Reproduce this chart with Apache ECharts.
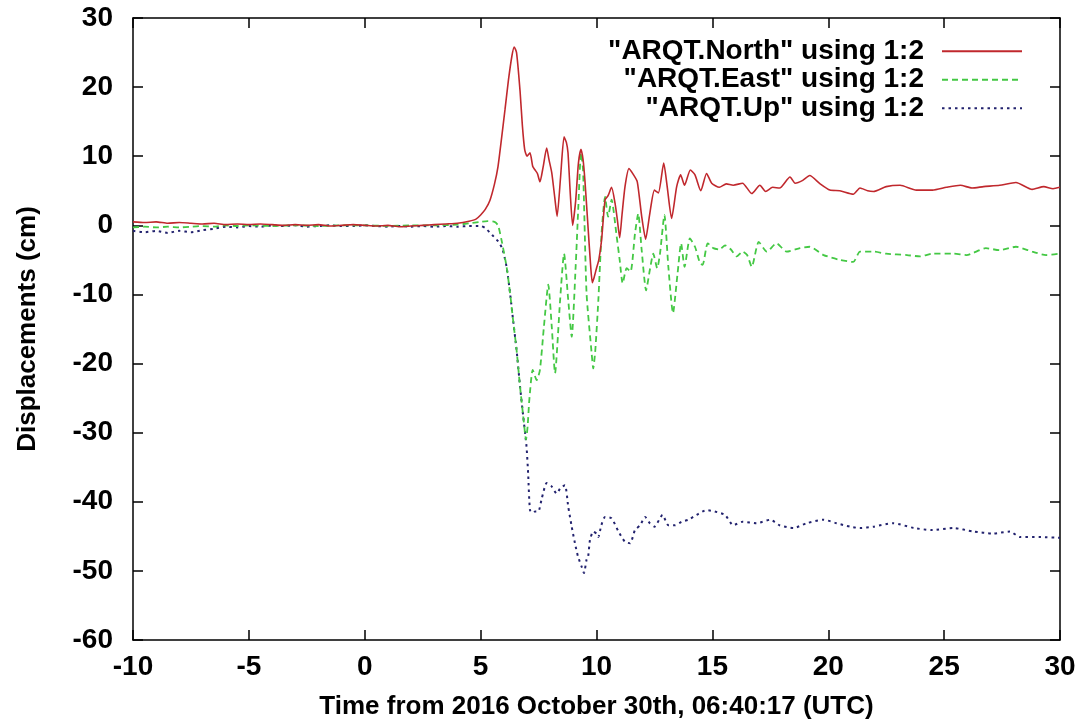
<!DOCTYPE html>
<html>
<head>
<meta charset="utf-8">
<script src="https://cdn.jsdelivr.net/npm/echarts@6/dist/echarts.min.js"></script>
<style>
html,body{margin:0;padding:0;background:#fff;}
#c{width:1084px;height:725px;}
</style>
</head>
<body>
<div id="c"></div>
<script>
// ---- data ----
const seriesNames = ['"ARQT.North" using 1:2', '"ARQT.East" using 1:2', '"ARQT.Up" using 1:2'];
const xTicks = [-10, -5, 0, 5, 10, 15, 20, 25, 30];
const yTicks = [-60, -50, -40, -30, -20, -10, 0, 10, 20, 30];

const northT = [-10,-9.5,-9,-8.5,-8,-7.5,-7,-6.5,-6,-5.5,-5,-4.5,-4,-3.5,-3,-2.5,-2,-1.5,-1,-0.5,0,0.5,1,1.5,2,2.5,3,3.5,4,4.5,4.8,5.0,5.2,5.4,5.6,5.75,5.9,6.05,6.2,6.35,6.45,6.55,6.7,6.8,6.9,7.0,7.13,7.25,7.35,7.45,7.56,7.7,7.85,7.95,8.07,8.2,8.3,8.45,8.6,8.7,8.77,8.87,8.97,9.1,9.22,9.33,9.42,9.5,9.62,9.75,9.82,9.9,10.0,10.1,10.22,10.37,10.5,10.65,10.8,10.9,11.0,11.1,11.23,11.4,11.6,11.76,11.95,12.12,12.3,12.5,12.67,12.9,13.05,13.24,13.46,13.63,13.8,14.05,14.25,14.5,14.75,14.97,15.3,15.6,15.9,16.3,16.7,17.05,17.3,17.6,17.9,18.35,18.57,18.9,19.2,19.65,20.07,20.5,21.08,21.37,21.7,21.95,22.5,23.1,23.8,24.5,25.1,25.7,26.2,26.7,27.4,28.1,28.8,29.3,29.7,30];
const northV = [0.5,0.4,0.5,0.3,0.4,0.3,0.2,0.3,0.1,0.2,0.1,0.2,0.1,0.0,0.1,0.0,0.1,-0.1,0.0,0.1,0.0,-0.1,0.0,-0.2,-0.1,0.0,0.1,0.2,0.3,0.6,0.9,1.5,2.3,3.6,6.0,8.5,12.5,16.7,21.0,24.5,25.8,25.0,19.5,14.5,11.0,10.0,10.5,8.5,8.0,7.5,6.3,8.5,11.2,9.5,7.6,4.0,1.3,7.0,12.8,12.0,10.5,4.5,0.0,3.5,9.0,11.0,9.5,6.5,0.5,-6.0,-8.3,-7.5,-6.2,-5.0,-2.1,3.7,4.3,5.5,3.2,0.8,-1.8,1.5,5.6,8.2,7.3,6.3,1.3,-2.0,1.7,5.1,4.7,9.0,5.6,1.0,5.6,7.3,5.8,8.0,7.3,5.0,7.5,6.1,5.5,6.0,5.8,6.1,4.6,5.8,4.9,5.5,5.4,7.0,6.1,6.5,7.2,6.0,5.1,5.0,4.5,5.4,5.0,4.9,5.6,5.8,5.1,5.1,5.5,5.8,5.4,5.6,5.8,6.2,5.2,5.6,5.3,5.5];

const eastT = [-10,-9.5,-9,-8.5,-8,-7.5,-7,-6.5,-6,-5.5,-5,-4,-3,-2,-1,0,1,2,3,4,4.5,5.0,5.3,5.6,5.75,5.9,6.12,6.27,6.4,6.55,6.7,6.84,6.96,7.03,7.1,7.25,7.42,7.56,7.73,7.92,8.07,8.21,8.43,8.6,8.78,8.93,9.1,9.22,9.33,9.42,9.57,9.79,9.86,9.95,10.08,10.22,10.37,10.5,10.65,10.87,11.0,11.13,11.3,11.47,11.66,11.8,11.95,12.14,12.3,12.45,12.62,12.74,12.93,13.1,13.3,13.5,13.65,13.8,14.03,14.25,14.47,14.58,14.8,15.04,15.3,15.55,15.8,16.05,16.3,16.5,16.7,17.0,17.35,17.77,18.2,18.78,19.2,19.8,20.5,21.08,21.37,21.95,22.5,23.4,23.96,24.5,25.4,25.97,26.8,27.4,28.1,28.8,29.4,30];
const eastV = [-0.3,-0.2,-0.3,-0.2,-0.3,-0.2,-0.1,-0.2,0.0,-0.1,0.0,-0.1,0.0,-0.1,0.0,0.0,-0.1,0.0,0.0,0.1,0.3,0.5,0.6,0.5,0.0,-2.1,-6.0,-9.8,-13.7,-18.0,-23.3,-27.7,-31.0,-29.0,-25.3,-20.9,-22.4,-20.9,-14.7,-8.6,-14.7,-21.4,-10.8,-4.1,-10.8,-16.1,-6.0,3.0,10.5,8.0,-9.8,-18.5,-20.7,-18.0,-10.8,-1.1,4.1,1.25,3.7,-1.6,-5.0,-8.4,-6.2,-6.7,-1.2,1.7,-3.6,-9.4,-6.5,-4.1,-6.2,-4.1,1.5,-6.0,-12.7,-6.9,-2.6,-6.0,-1.9,-3.1,-5.5,-5.7,-2.6,-3.3,-3.5,-2.9,-3.5,-4.5,-3.8,-4.3,-6.0,-2.4,-3.8,-2.6,-3.8,-3.3,-3.1,-4.3,-5.0,-5.3,-3.8,-3.8,-4.1,-4.3,-4.5,-4.1,-4.1,-4.3,-3.3,-3.6,-3.1,-3.8,-4.3,-4.1];

const upT = [-10,-9.5,-9,-8.5,-8,-7.5,-7,-6.5,-6,-5.5,-5,-4.5,-4,-3.5,-3,-2.5,-2,-1.5,-1,-0.5,0,0.5,1,1.5,2,2.5,3,3.5,4,4.5,5.0,5.2,5.5,5.8,5.95,6.12,6.27,6.4,6.55,6.7,6.84,6.98,7.05,7.13,7.25,7.35,7.49,7.64,7.85,8.07,8.28,8.45,8.64,8.78,8.93,9.07,9.2,9.36,9.46,9.57,9.64,9.72,9.86,10.0,10.08,10.2,10.37,10.65,10.95,11.23,11.45,11.66,11.88,12.1,12.3,12.5,12.85,13.1,13.39,13.67,13.96,14.32,14.75,15.1,15.55,15.9,16.3,16.9,17.5,17.9,18.5,19.07,19.8,20.36,20.94,21.37,21.95,22.8,23.7,24.5,25.4,26.26,27.1,27.84,28.27,29.1,30];
const upV = [-0.8,-1.0,-0.8,-1.1,-0.8,-1.0,-0.7,-0.5,-0.2,-0.3,-0.1,-0.2,0.0,-0.1,0.0,-0.2,-0.1,0.0,-0.1,-0.1,0.0,-0.1,-0.2,-0.1,-0.2,-0.1,-0.2,-0.1,-0.2,-0.1,-0.1,-0.4,-1.4,-2.5,-3.5,-6.0,-9.8,-13.7,-18.0,-23.3,-27.7,-32.0,-35.9,-41.2,-41.6,-41.4,-41.4,-39.5,-37.3,-37.8,-38.8,-38.0,-37.6,-40.7,-43.6,-46.0,-47.9,-49.4,-50.3,-48.4,-47.9,-45.5,-44.3,-44.6,-45.1,-43.5,-42.2,-42.4,-44.3,-45.8,-46.0,-44.1,-43.4,-42.2,-43.1,-43.6,-41.9,-43.4,-43.4,-42.9,-42.6,-41.9,-41.2,-41.4,-41.9,-43.4,-42.9,-43.1,-42.6,-43.4,-43.8,-43.1,-42.6,-43.1,-43.6,-43.8,-43.6,-43.1,-43.8,-44.1,-43.8,-44.3,-44.6,-44.3,-45.1,-45.1,-45.2];

// ---- chart ----
const zip = (t, v) => t.map((x, i) => [x, v[i]]);
const FONT = "'Liberation Sans', Arial, Helvetica, sans-serif";
const txt = {fontFamily: FONT, fontWeight: 'bold', fontSize: 26, color: '#000'};
const tickTxt = Object.assign({}, txt, {fontSize: 28});
const axisLine = {show: true, onZero: false, lineStyle: {color: '#000', width: 1.5}};
const tickIn = {show: true, inside: true, length: 10, lineStyle: {color: '#000', width: 1.5}};

const chart = echarts.init(document.getElementById('c'), null, {renderer: 'canvas'});
chart.setOption({
  backgroundColor: '#fff',
  animation: false,
  grid: {left: 133, right: 24, top: 18, bottom: 85},
  legend: {
    orient: 'vertical', align: 'right', right: 56, top: 32,
    itemWidth: 80, itemHeight: 14, itemGap: 0,
    itemStyle: {opacity: 0},
    textStyle: Object.assign({}, txt, {fontSize: 28, lineHeight: 28.5, padding: [0, 13, 0, 0]}),
    data: seriesNames
  },
  xAxis: [
    {type: 'value', position: 'bottom', min: xTicks[0], max: xTicks[xTicks.length-1], interval: 5,
     axisLine: axisLine, axisTick: tickIn, splitLine: {show: false},
     axisLabel: Object.assign({}, tickTxt, {margin: 13}),
     name: 'Time from 2016 October 30th, 06:40:17 (UTC)', nameLocation: 'middle', nameGap: 54,
     nameTextStyle: txt},
    {type: 'value', position: 'top', min: xTicks[0], max: xTicks[xTicks.length-1], interval: 5,
     axisLine: axisLine, axisTick: tickIn, splitLine: {show: false}, axisLabel: {show: false}}
  ],
  yAxis: [
    {type: 'value', position: 'left', min: yTicks[0], max: yTicks[yTicks.length-1], interval: 10,
     axisLine: axisLine, axisTick: tickIn, splitLine: {show: false},
     axisLabel: Object.assign({}, tickTxt, {margin: 20}),
     name: 'Displacements (cm)', nameLocation: 'middle', nameGap: 92, nameTextStyle: txt},
    {type: 'value', position: 'right', min: yTicks[0], max: yTicks[yTicks.length-1], interval: 10,
     axisLine: axisLine, axisTick: tickIn, splitLine: {show: false}, axisLabel: {show: false}}
  ],
  series: [
    {name: seriesNames[0], type: 'line', data: zip(northT, northV), symbol: 'none', smooth: 0.2,
     color: '#c0282d', lineStyle: {color: '#c0282d', width: 1.6, type: 'solid'}, z: 3},
    {name: seriesNames[1], type: 'line', data: zip(eastT, eastV), symbol: 'none', smooth: 0.2,
     color: '#44c844', lineStyle: {color: '#44c844', width: 1.8, type: [6, 4]}, z: 2},
    {name: seriesNames[2], type: 'line', data: zip(upT, upV), symbol: 'none', smooth: 0.2,
     color: '#22226e', lineStyle: {color: '#22226e', width: 2, type: [2.5, 4]}, z: 1}
  ]
});
</script>
</body>
</html>
